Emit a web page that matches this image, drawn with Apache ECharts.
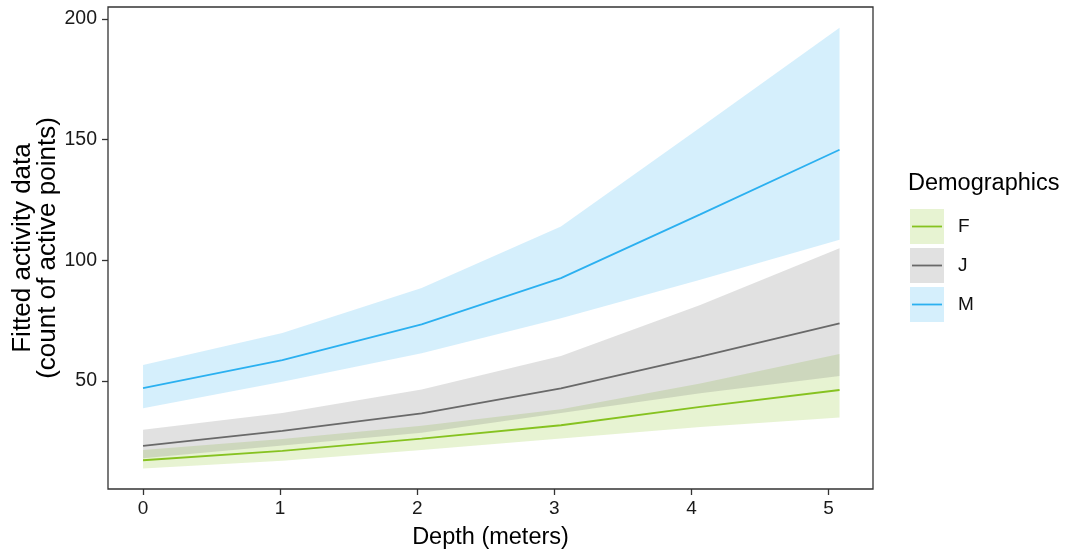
<!DOCTYPE html>
<html>
<head>
<meta charset="utf-8">
<script src="https://cdn.jsdelivr.net/npm/echarts@6.0.0/dist/echarts.min.js"></script>
<style>
  html, body { margin: 0; padding: 0; background: #fff; }
  #chart { width: 1070px; height: 556px; }
</style>
</head>
<body>
<div id="chart"></div>
<script>
// ---- data ----
const depth = [0, 1.016, 2.032, 3.048, 4.064, 5.08];
const groups = ['F', 'J', 'M'];
const fFit   = [17.2, 21.1, 26.2, 31.7, 39.3, 46.3];
const fUpper = [21.5, 26.0, 31.5, 38.3, 49.0, 61.2];
const fLower = [13.8, 17.0, 21.5, 26.2, 31.0, 34.9];
const jFit   = [23.2, 29.4, 36.6, 47.0, 60.1, 73.9];
const jUpper = [29.8, 36.8, 46.5, 60.4, 81.5, 105.0];
const jLower = [18.0, 23.3, 28.6, 36.8, 44.9, 52.1];
const mFit   = [47.1, 58.7, 73.5, 92.6, 119.0, 145.8];
const mUpper = [56.6, 69.9, 88.5, 114.0, 155.0, 196.3];
const mLower = [38.7, 49.7, 61.5, 76.0, 92.0, 108.5];
const xTicks = [0, 1, 2, 3, 4, 5];
const yTicks = [50, 100, 150, 200];

// ---- styles ----
const FONT = "'Liberation Sans', Arial, sans-serif";
const lineColors = { F: '#86C220', J: '#696969', M: '#2BB0F0' };
const bandColors = { F: 'rgba(134,194,32,0.2)', J: 'rgba(105,105,105,0.2)', M: 'rgba(43,176,240,0.2)' };
const keyColors  = { F: '#E7F3D2', J: '#E1E1E1', M: '#D5EFFC' };

const fits = { F: fFit, J: jFit, M: mFit };
const uppers = { F: fUpper, J: jUpper, M: mUpper };
const lowers = { F: fLower, J: jLower, M: mLower };

function bandSeries(g) {
  const lo = lowers[g], up = uppers[g];
  return {
    type: 'custom',
    name: g + ' band',
    silent: true,
    clip: true,
    z: 1,
    data: depth.map((d, i) => [d, lo[i], up[i]]),
    encode: { x: 0, y: [1, 2] },
    renderItem: function (params, api) {
      if (params.dataIndex !== 0) return;
      const pts = [];
      for (let i = 0; i < depth.length; i++) pts.push(api.coord([depth[i], up[i]]));
      for (let i = depth.length - 1; i >= 0; i--) pts.push(api.coord([depth[i], lo[i]]));
      return { type: 'polygon', shape: { points: pts }, style: { fill: bandColors[g], stroke: null } };
    }
  };
}

function lineSeries(g) {
  return {
    type: 'line',
    name: g,
    z: 3,
    showSymbol: false,
    silent: true,
    data: depth.map((d, i) => [d, fits[g][i]]),
    lineStyle: { color: lineColors[g], width: 1.8 },
    itemStyle: { color: lineColors[g] }
  };
}

const series = [];
groups.forEach(g => series.push(bandSeries(g)));
groups.forEach(g => series.push(lineSeries(g)));

// ---- legend drawn as graphic (ggplot-style keys) ----
const legendGraphics = [
  { type: 'text', left: 908, top: 172, style: { text: 'Demographics', font: '23.5px ' + FONT, fill: '#000' } }
];
const keyTops = [209, 248, 287];
groups.forEach((g, i) => {
  const top = keyTops[i];
  legendGraphics.push({ type: 'rect', shape: { x: 910, y: top, width: 34, height: 35 }, style: { fill: keyColors[g] } });
  legendGraphics.push({ type: 'line', shape: { x1: 912, y1: top + 17.5, x2: 942, y2: top + 17.5 }, style: { stroke: lineColors[g], lineWidth: 1.8 } });
  legendGraphics.push({ type: 'text', x: 958, y: top + 17.5, style: { text: g, font: '19px ' + FONT, fill: '#111', verticalAlign: 'middle', align: 'left' } });
});

const chart = echarts.init(document.getElementById('chart'), null, { renderer: 'canvas' });
chart.setOption({
  animation: false,
  backgroundColor: '#fff',
  grid: { left: 108, right: 197, top: 7, bottom: 67, containLabel: false, outerBoundsMode: 'none', show: true, borderColor: '#333', borderWidth: 1.3, backgroundColor: 'transparent' },
  xAxis: {
    type: 'value',
    min: -0.2555, max: 5.324,
    name: 'Depth (meters)',
    nameLocation: 'middle',
    nameGap: 37,
    nameMoveOverlap: false,
    nameTextStyle: { fontFamily: FONT, fontSize: 23.5, color: '#000' },
    axisLine: { show: false, onZero: false },
    splitLine: { show: false },
    axisTick: { show: true, length: 6, customValues: xTicks, lineStyle: { color: '#333', width: 1.3 } },
    axisLabel: { customValues: xTicks, margin: 10, fontFamily: FONT, fontSize: 19, color: '#1a1a1a' }
  },
  yAxis: {
    type: 'value',
    min: 5.3, max: 204.9,
    name: 'Fitted activity data\n(count of active points)',
    nameLocation: 'middle',
    nameRotate: 90,
    nameGap: 48,
    nameMoveOverlap: false,
    nameTextStyle: { fontFamily: FONT, fontSize: 26, color: '#000', lineHeight: 25, align: 'center' },
    axisLine: { show: false, onZero: false },
    splitLine: { show: false },
    axisTick: { show: true, length: 6, customValues: yTicks, lineStyle: { color: '#333', width: 1.3 } },
    axisLabel: { customValues: yTicks, margin: 11, fontFamily: FONT, fontSize: 19.5, color: '#1a1a1a' }
  },
  graphic: legendGraphics,
  series: series
});
</script>
</body>
</html>
